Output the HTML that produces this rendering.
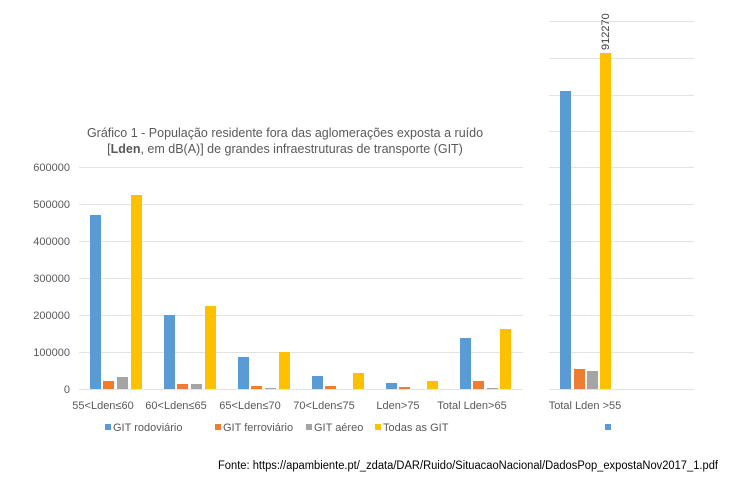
<!DOCTYPE html>
<html><head><meta charset="utf-8"><style>
body{margin:0;background:#fff;}
svg text{font-family:"Liberation Sans",sans-serif;}
</style></head><body>
<svg width="742" height="481" xmlns="http://www.w3.org/2000/svg">
<rect width="742" height="481" fill="#fff"/>
<g stroke="#e3e3e3" stroke-width="1">
<line x1="79" x2="523" y1="167.5" y2="167.5"/><line x1="79" x2="523" y1="204.5" y2="204.5"/><line x1="79" x2="523" y1="241.5" y2="241.5"/><line x1="79" x2="523" y1="278.5" y2="278.5"/><line x1="79" x2="523" y1="315.5" y2="315.5"/><line x1="79" x2="523" y1="352.5" y2="352.5"/><line x1="79" x2="523" y1="389.5" y2="389.5"/>
<line x1="549" x2="694" y1="21.5" y2="21.5"/><line x1="549" x2="694" y1="58.5" y2="58.5"/><line x1="549" x2="694" y1="95.5" y2="95.5"/><line x1="549" x2="694" y1="131.5" y2="131.5"/><line x1="549" x2="694" y1="167.5" y2="167.5"/><line x1="549" x2="694" y1="204.5" y2="204.5"/><line x1="549" x2="694" y1="241.5" y2="241.5"/><line x1="549" x2="694" y1="278.5" y2="278.5"/><line x1="549" x2="694" y1="315.5" y2="315.5"/><line x1="549" x2="694" y1="352.5" y2="352.5"/><line x1="549" x2="694" y1="389.5" y2="389.5"/>
</g>
<g font-size="11" fill="#595959" text-anchor="end">
<text x="70" y="171">600000</text><text x="70" y="208">500000</text><text x="70" y="245">400000</text><text x="70" y="282">300000</text><text x="70" y="319">200000</text><text x="70" y="356">100000</text><text x="70" y="393">0</text>
</g>
<g font-size="12.5" fill="#595959" text-anchor="middle">
<text x="285" y="137">Gráfico 1 - População residente fora das aglomerações exposta a ruído</text>
<text x="285" y="153">[<tspan font-weight="bold">Lden</tspan>, em dB(A)] de grandes infraestruturas de transporte (GIT)</text>
</g>
<g id="bars">
<rect x="90" y="215" width="11" height="174" fill="#5b9bd5"/><rect x="103" y="381" width="11" height="8" fill="#ed7d31"/><rect x="117" y="377" width="11" height="12" fill="#a5a5a5"/><rect x="131" y="195" width="11" height="194" fill="#ffc000"/>
<rect x="164" y="315" width="11" height="74" fill="#5b9bd5"/><rect x="177" y="384" width="11" height="5" fill="#ed7d31"/><rect x="191" y="384" width="11" height="5" fill="#a5a5a5"/><rect x="205" y="306" width="11" height="83" fill="#ffc000"/>
<rect x="238" y="357" width="11" height="32" fill="#5b9bd5"/><rect x="251" y="386" width="11" height="3" fill="#ed7d31"/><rect x="265" y="388" width="11" height="1" fill="#a5a5a5"/><rect x="279" y="352" width="11" height="37" fill="#ffc000"/>
<rect x="312" y="376" width="11" height="13" fill="#5b9bd5"/><rect x="325" y="386" width="11" height="3" fill="#ed7d31"/><rect x="353" y="373" width="11" height="16" fill="#ffc000"/>
<rect x="386" y="383" width="11" height="6" fill="#5b9bd5"/><rect x="399" y="387" width="11" height="2" fill="#ed7d31"/><rect x="427" y="381" width="11" height="8" fill="#ffc000"/>
<rect x="460" y="338" width="11" height="51" fill="#5b9bd5"/><rect x="473" y="381" width="11" height="8" fill="#ed7d31"/><rect x="487" y="388" width="11" height="1" fill="#a5a5a5"/><rect x="500" y="329" width="11" height="60" fill="#ffc000"/>
<rect x="560" y="91" width="11" height="298" fill="#5b9bd5"/><rect x="574" y="369" width="11" height="20" fill="#ed7d31"/><rect x="587" y="371" width="11" height="18" fill="#a5a5a5"/><rect x="600" y="53" width="11" height="336" fill="#ffc000"/>
</g>
<text transform="translate(609,50) rotate(-90)" font-size="11" fill="#404040">912270</text>
<g font-size="11" fill="#595959" text-anchor="middle">
<text x="103" y="409">55&lt;Lden≤60</text><text x="176" y="409">60&lt;Lden≤65</text><text x="250" y="409">65&lt;Lden≤70</text><text x="324" y="409">70&lt;Lden≤75</text><text x="398" y="409">Lden&gt;75</text><text x="472" y="409">Total Lden&gt;65</text><text x="585" y="409">Total Lden &gt;55</text>
</g>
<g font-size="11" fill="#595959">
<rect x="105" y="424" width="6" height="6" fill="#5b9bd5"/><text x="113" y="431">GIT rodoviário</text>
<rect x="215" y="424" width="6" height="6" fill="#ed7d31"/><text x="223" y="431">GIT ferroviário</text>
<rect x="306" y="424" width="6" height="6" fill="#a5a5a5"/><text x="314" y="431">GIT aéreo</text>
<rect x="375" y="424" width="6" height="6" fill="#ffc000"/><text x="383" y="431">Todas as GIT</text>
<rect x="605" y="424" width="6" height="6" fill="#5b9bd5"/>
</g>
<text x="718" y="469" font-size="11.5" fill="#000" text-anchor="end" textLength="500" lengthAdjust="spacingAndGlyphs">Fonte: https://apambiente.pt/_zdata/DAR/Ruido/SituacaoNacional/DadosPop_expostaNov2017_1.pdf</text>
</svg>
</body></html>
